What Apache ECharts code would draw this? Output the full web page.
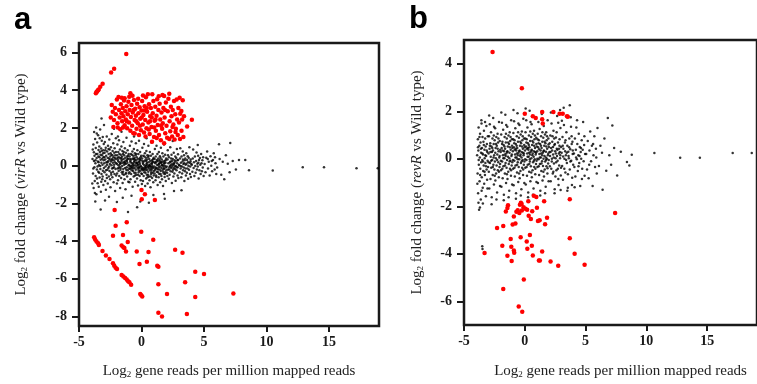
<!DOCTYPE html>
<html>
<head>
<meta charset="utf-8">
<script src="https://cdn.jsdelivr.net/npm/echarts@6.0.0/dist/echarts.min.js"></script>
<style>html,body{margin:0;padding:0;background:#fff}#c{width:757px;height:384px}</style>
</head>
<body>
<div id="c"></div>
<script>
// ---------- Tick labels ----------
const xTicks = [-5, 0, 5, 10, 15];
const yTicksA = [-8, -6, -4, -2, 0, 2, 4, 6];
const yTicksB = [-6, -4, -2, 0, 2, 4];

// ---------- Panel a : virR vs Wild type ----------
const blackA = [
[-3.92,0.35],[-3.88,-0.42],[-3.85,1.12],[-3.83,-1.18],[-3.81,0.71],[-3.79,1.78],[-3.77,-0.08],[-3.76,0.52],[-3.74,-0.81],[-3.71,1.41],[-3.69,0.12],[-3.67,-0.55],[-3.66,0.93],[-3.63,2.02],[-3.61,-1.52],[-3.59,0.41],[-3.57,-0.21],[-3.55,1.23],[-3.53,0.62],[-3.51,-0.93],[-3.49,0.22],[-3.47,1.61],[-3.46,-0.33],[-3.44,0.83],[-3.42,-1.12],[-3.4,0.02],[-3.38,1.02],[-3.36,0.44],[-3.35,-0.63],[-3.33,0.72],[-3.31,1.91],[-3.29,-0.18],[-3.27,0.31],[-3.25,-1.38],[-3.23,0.91],[-3.21,0.15],[-3.2,-0.45],[-3.18,1.32],[-3.16,0.55],[-3.14,-0.72],[-3.12,0.05],[-3.1,1.52],[-3.09,-0.27],[-3.07,0.66],[-3.05,-1.02],[-3.03,0.28],[-3.02,1.15],[-3.01,-0.12],[-3.94,-0.95],[-3.9,0.85],[-3.86,-0.15],[-3.8,0.25],[-3.73,-1.45],[-3.64,0.62],[-3.58,1.7],[-3.52,-0.05],[-3.45,0.48],[-3.39,-0.38],[-3.34,1.45],[-3.28,0.58],[-3.22,-0.85],[-3.15,0.36],[-3.11,-0.58],[-3.06,0.82],[-3.68,0.28],[-3.56,-0.68],[-3.43,0.18],[-3.3,-0.02],[-3.19,0.78],[-3.04,0.45],
[-2.98,0.12],[-2.96,-0.35],[-2.95,0.68],[-2.93,1.25],[-2.91,-0.82],[-2.9,0.33],[-2.88,-0.05],[-2.86,0.95],[-2.85,-1.28],[-2.83,0.52],[-2.81,0.18],[-2.8,-0.48],[-2.78,1.55],[-2.76,0.05],[-2.75,0.75],[-2.73,-0.22],[-2.71,0.42],[-2.7,-0.95],[-2.68,1.05],[-2.66,0.25],[-2.65,-0.12],[-2.63,0.62],[-2.61,-0.58],[-2.6,0.38],[-2.58,1.38],[-2.56,-0.28],[-2.55,0.85],[-2.53,0.08],[-2.51,-0.72],[-2.5,0.48],[-2.48,-1.15],[-2.46,0.22],[-2.45,0.98],[-2.43,-0.38],[-2.41,0.58],[-2.4,0.02],[-2.38,1.68],[-2.36,-0.15],[-2.35,0.35],[-2.33,-0.62],[-2.31,0.78],[-2.3,0.15],[-2.28,-0.32],[-2.26,1.18],[-2.25,0.45],[-2.23,-0.88],[-2.21,0.28],[-2.2,-0.08],[-2.18,0.68],[-2.16,-0.45],[-2.15,0.92],[-2.13,0.18],[-2.11,-1.35],[-2.1,0.55],[-2.08,-0.18],[-2.06,0.35],[-2.05,1.45],[-2.03,-0.52],[-2.01,0.12],[-2.97,0.45],[-2.84,-0.25],[-2.72,0.18],[-2.59,-0.05],[-2.47,0.65],[-2.37,0.28],[-2.27,-0.12],[-2.14,0.42],[-2.04,0.72],[-2.89,0.82],[-2.77,-0.65],[-2.64,0.88],[-2.52,0.32],[-2.42,-0.48],[-2.32,0.55],[-2.19,0.05],
[-1.98,0.08],[-1.96,-0.42],[-1.95,0.55],[-1.93,1.12],[-1.91,-0.15],[-1.9,0.32],[-1.88,-0.78],[-1.86,0.72],[-1.85,0.02],[-1.83,-0.28],[-1.81,0.45],[-1.8,1.35],[-1.78,-0.55],[-1.76,0.18],[-1.75,-0.05],[-1.73,0.85],[-1.71,-1.18],[-1.7,0.38],[-1.68,-0.22],[-1.66,0.58],[-1.65,0.12],[-1.63,-0.65],[-1.61,1.02],[-1.6,0.25],[-1.58,-0.35],[-1.56,0.48],[-1.55,-0.02],[-1.53,0.78],[-1.51,-0.92],[-1.5,0.15],[-1.48,0.62],[-1.46,-0.18],[-1.45,1.25],[-1.43,0.35],[-1.41,-0.48],[-1.4,0.05],[-1.38,0.55],[-1.36,-0.72],[-1.35,0.22],[-1.33,0.92],[-1.31,-0.12],[-1.3,0.42],[-1.28,-1.25],[-1.26,0.08],[-1.25,0.68],[-1.23,-0.38],[-1.21,0.28],[-1.2,1.48],[-1.18,-0.08],[-1.16,0.48],[-1.15,-0.58],[-1.13,0.15],[-1.11,0.82],[-1.1,-0.25],[-1.08,0.35],[-1.06,-0.85],[-1.05,0.02],[-1.03,0.62],[-1.01,-0.15],[-1.97,-0.95],[-1.87,0.25],[-1.77,0.62],[-1.67,-0.12],[-1.57,0.32],[-1.47,-0.32],[-1.37,0.18],[-1.27,-0.45],[-1.17,0.25],[-1.07,0.52],[-1.92,0.42],[-1.82,-0.12],[-1.72,0.08],[-1.62,0.42],[-1.52,-0.45],[-1.42,0.72],[-1.32,0.12],[-1.22,-0.22],[-1.12,0.38],[-1.02,-0.42],[-1.89,1.55],
[-0.98,0.05],[-0.96,-0.35],[-0.95,0.48],[-0.93,1.05],[-0.91,-0.18],[-0.9,0.25],[-0.88,-0.72],[-0.86,0.62],[-0.85,-0.02],[-0.83,-0.45],[-0.81,0.32],[-0.8,1.28],[-0.78,-0.25],[-0.76,0.12],[-0.75,-0.08],[-0.73,0.75],[-0.71,-1.12],[-0.7,0.38],[-0.68,-0.28],[-0.66,0.52],[-0.65,0.08],[-0.63,-0.58],[-0.61,0.88],[-0.6,0.18],[-0.58,-0.38],[-0.56,0.42],[-0.55,-0.12],[-0.53,0.65],[-0.51,-0.85],[-0.5,0.02],[-0.48,0.55],[-0.46,-0.22],[-0.45,1.18],[-0.43,0.28],[-0.41,-0.48],[-0.4,-0.05],[-0.38,0.45],[-0.36,-0.68],[-0.35,0.15],[-0.33,0.82],[-0.31,-0.15],[-0.3,0.35],[-0.28,-1.05],[-0.26,0.05],[-0.25,0.62],[-0.23,-0.35],[-0.21,0.22],[-0.2,1.32],[-0.18,-0.12],[-0.16,0.38],[-0.15,-0.55],[-0.13,0.08],[-0.11,0.72],[-0.1,-0.28],[-0.08,0.28],[-0.06,-0.78],[-0.05,-0.02],[-0.03,0.52],[-0.01,-0.18],[-0.97,-0.88],[-0.87,0.18],[-0.77,0.58],[-0.67,-0.15],[-0.57,0.25],[-0.47,-0.38],[-0.37,0.12],[-0.27,-0.48],[-0.17,0.18],[-0.07,0.45],[-0.92,0.35],[-0.82,-0.12],[-0.72,0.02],[-0.62,0.35],[-0.52,-0.52],[-0.42,0.62],[-0.32,0.05],[-0.22,-0.25],[-0.12,0.32],[-0.02,-0.42],[-0.94,-0.05],[-0.64,-0.02],[-0.44,0.15],[-0.24,-0.08],[-0.14,-0.05],[-0.54,0.32],
[0.02,-0.08],[0.04,-0.45],[0.05,0.38],[0.07,0.95],[0.09,-0.25],[0.1,0.15],[0.12,-0.82],[0.14,0.52],[0.15,-0.12],[0.17,-0.55],[0.19,0.22],[0.2,1.15],[0.22,-0.35],[0.24,0.02],[0.25,-0.18],[0.27,0.65],[0.29,-1.08],[0.3,0.28],[0.32,-0.38],[0.34,0.42],[0.35,-0.02],[0.37,-0.68],[0.39,0.78],[0.4,0.08],[0.42,-0.48],[0.44,0.32],[0.45,-0.22],[0.47,0.55],[0.49,-0.95],[0.5,-0.08],[0.52,0.45],[0.54,-0.32],[0.55,1.05],[0.57,0.18],[0.59,-0.58],[0.6,-0.15],[0.62,0.35],[0.64,-0.78],[0.65,0.05],[0.67,0.72],[0.69,-0.25],[0.7,0.25],[0.72,-1.15],[0.74,-0.05],[0.75,0.52],[0.77,-0.45],[0.79,0.12],[0.8,1.22],[0.82,-0.22],[0.84,0.28],[0.85,-0.65],[0.87,-0.02],[0.89,0.62],[0.9,-0.38],[0.92,0.18],[0.94,-0.88],[0.95,-0.12],[0.97,0.42],[0.99,-0.28],[0.03,-0.98],[0.13,0.08],[0.23,0.48],[0.33,-0.25],[0.43,0.15],[0.53,-0.48],[0.63,0.02],[0.73,-0.58],[0.83,0.08],[0.93,0.35],[0.08,0.25],[0.18,-0.22],[0.28,-0.08],[0.38,0.25],[0.48,-0.62],[0.58,0.52],[0.68,-0.05],[0.78,-0.35],[0.88,0.22],[0.98,-0.52],[0.06,-0.18],[0.36,-0.12],[0.56,-0.05],[0.76,-0.15],[0.86,-0.1],[0.46,0.02],
[1.02,-0.05],[1.04,-0.42],[1.05,0.35],[1.07,0.88],[1.09,-0.22],[1.1,0.12],[1.12,-0.78],[1.14,0.48],[1.15,-0.1],[1.17,-0.52],[1.19,0.2],[1.2,1.05],[1.22,-0.32],[1.24,0.05],[1.25,-0.15],[1.27,0.62],[1.29,-1.02],[1.3,0.25],[1.32,-0.35],[1.34,0.38],[1.35,0.02],[1.37,-0.62],[1.39,0.72],[1.4,0.08],[1.42,-0.45],[1.44,0.3],[1.45,-0.2],[1.47,0.5],[1.49,-0.88],[1.5,-0.05],[1.52,0.42],[1.54,-0.28],[1.55,0.95],[1.57,0.15],[1.59,-0.55],[1.6,-0.12],[1.62,0.32],[1.64,-0.72],[1.65,0.02],[1.67,0.65],[1.69,-0.22],[1.7,0.22],[1.72,-1.08],[1.74,-0.02],[1.75,0.48],[1.77,-0.42],[1.79,0.1],[1.8,1.12],[1.82,-0.18],[1.84,0.25],[1.85,-0.6],[1.87,0.0],[1.89,0.58],[1.9,-0.35],[1.92,0.15],[1.94,-0.82],[1.95,-0.1],[1.97,0.38],[1.99,-0.25],[1.13,-0.15],[1.23,0.3],[1.33,-0.2],[1.43,0.12],[1.53,-0.45],[1.63,0.05],[1.73,-0.32],[1.83,0.15],[1.93,0.28],[1.18,-0.6],[1.38,-0.08],[1.58,0.18],[1.78,-0.12],[1.88,-0.45],[1.08,0.18],[1.48,0.22],
[2.02,-0.05],[2.05,-0.38],[2.08,0.32],[2.1,0.82],[2.13,-0.2],[2.15,0.12],[2.18,-0.7],[2.2,0.45],[2.23,-0.08],[2.25,-0.48],[2.28,0.18],[2.3,0.98],[2.33,-0.3],[2.35,0.05],[2.38,-0.12],[2.4,0.58],[2.43,-0.92],[2.45,0.25],[2.48,-0.32],[2.5,0.35],[2.53,0.02],[2.55,-0.58],[2.58,0.68],[2.6,0.08],[2.63,-0.42],[2.65,0.28],[2.68,-0.18],[2.7,0.48],[2.73,-0.8],[2.75,-0.02],[2.78,0.4],[2.8,-0.25],[2.83,0.88],[2.85,0.12],[2.88,-0.52],[2.9,-0.08],[2.93,0.3],[2.95,-0.65],[2.98,0.05],[2.12,0.55],[2.22,-0.2],[2.32,0.22],[2.42,-0.05],[2.52,-0.22],[2.62,0.15],[2.72,0.22],[2.82,-0.1],[2.92,0.6],[2.07,-0.55],[2.27,-0.02],[2.47,0.1],[2.67,-0.05],[2.87,0.28],[2.57,-0.12],[2.37,0.38],
[3.02,0.02],[3.05,-0.35],[3.08,0.38],[3.1,0.92],[3.13,-0.15],[3.15,0.15],[3.18,-0.62],[3.2,0.48],[3.23,-0.05],[3.25,-0.42],[3.28,0.22],[3.3,0.75],[3.33,-0.25],[3.35,0.08],[3.38,-0.1],[3.4,0.55],[3.43,-0.82],[3.45,0.28],[3.48,-0.3],[3.5,0.38],[3.53,0.05],[3.55,-0.52],[3.58,0.65],[3.6,0.1],[3.63,-0.38],[3.65,0.3],[3.68,-0.15],[3.7,0.5],[3.73,-0.7],[3.75,0.0],[3.78,0.42],[3.8,-0.22],[3.83,0.98],[3.85,0.15],[3.88,-0.45],[3.9,-0.05],[3.93,0.32],[3.95,-0.6],[3.98,0.08],[3.12,-0.02],[3.32,0.32],[3.52,-0.15],[3.72,0.18],[3.92,0.22],[3.42,0.12],
[4.03,0.05],[4.07,-0.32],[4.1,0.38],[4.13,0.85],[4.17,-0.12],[4.2,0.18],[4.23,-0.55],[4.27,0.48],[4.3,-0.02],[4.33,-0.38],[4.37,0.25],[4.4,0.7],[4.43,-0.2],[4.47,0.1],[4.5,-0.05],[4.53,0.52],[4.57,-0.68],[4.6,0.3],[4.63,-0.25],[4.67,0.4],[4.7,0.05],[4.73,-0.45],[4.77,0.62],[4.8,0.12],[4.83,-0.3],[4.87,0.28],[4.9,-0.1],[4.93,0.45],[4.97,-0.55],[4.55,0.15],
[5.05,0.08],[5.12,-0.35],[5.18,0.42],[5.25,0.75],[5.32,-0.15],[5.38,0.2],[5.45,-0.52],[5.52,0.5],[5.58,0.0],[5.65,-0.3],[5.72,0.3],[5.78,0.65],[5.85,-0.2],[5.92,0.12],[5.98,-0.45],[5.3,0.35],[5.62,0.25],[5.88,0.45],
[6.05,-0.1],[6.2,1.14],[6.25,0.35],[6.38,-0.48],[6.5,0.2],[6.62,-0.72],[6.75,0.55],[6.9,0.1],[7.1,1.2],[7.05,-0.35],[7.3,0.25],[7.55,-0.2],[7.8,0.3],[8.3,0.3],[8.6,-0.25],
[10.5,-0.26],[12.9,-0.09],[14.6,-0.09],[17.2,-0.14],[18.9,-0.14],
[-3.27,-2.32],[-2.92,-1.85],[-1.97,-1.93],[-1.08,-2.46],[-0.35,-2.2],[0.59,-1.97],[1.86,-1.76],[-2.6,-1.65],[-0.8,-1.6],[0.95,-1.55],[-1.5,-1.7],[-3.7,-1.9],[-3.0,2.15],[-2.2,1.95],[-1.6,1.8],[-3.2,2.5],[-0.6,1.55],[0.4,1.45],[2.5,1.3],[4.5,1.1],[1.8,-1.5],[3.2,-1.3],[-0.1,-1.9],[2.6,-1.35]
];
const redA = [
[-2.46,2.55],[-2.38,3.22],[-2.3,2.85],[-2.2,2.42],[-2.12,3.05],[-2.05,2.72],[-1.97,3.51],[-1.92,2.25],[-1.84,3.64],[-1.8,2.95],[-1.75,2.55],[-1.7,1.93],[-1.65,3.25],[-1.6,2.78],[-1.55,2.35],[-1.5,3.05],[-1.45,2.62],[-1.4,3.45],[-1.35,2.14],[-1.35,3.57],[-1.3,2.88],[-1.25,2.45],[-1.2,3.15],[-1.15,1.98],[-1.1,2.72],[-1.05,3.38],[-1.0,2.28],[-0.95,2.95],[-0.89,3.83],[-0.89,1.85],[-0.85,2.58],[-0.8,3.22],[-0.75,2.12],[-0.7,2.82],[-0.65,1.72],[-0.6,3.48],[-0.55,2.42],[-0.54,1.7],[-0.5,3.02],[-0.45,2.65],[-0.4,1.95],[-0.35,3.28],[-0.3,2.25],[-0.27,3.55],[-0.25,2.78],[-0.2,1.62],[-0.15,3.1],[-0.1,2.48],[-0.05,1.88],[0.0,2.92],[0.05,3.42],[0.1,2.18],[0.15,2.68],[0.2,1.75],[0.25,3.15],[0.3,2.42],[0.35,3.62],[0.4,1.98],[0.45,2.85],[0.51,3.78],[0.55,2.28],[0.6,3.25],[0.65,1.68],[0.7,2.62],[0.75,3.05],[0.8,2.05],[0.86,3.78],[0.84,1.27],[0.9,2.78],[0.95,3.42],[1.0,1.52],[1.05,2.38],[1.1,3.12],[1.15,1.85],[1.22,1.46],[1.2,2.65],[1.25,3.52],[1.3,2.15],[1.35,2.95],[1.4,1.62],[1.45,3.28],[1.5,2.45],[1.55,1.35],[1.6,2.82],[1.68,3.74],[1.65,1.95],[1.7,2.25],[1.75,3.05],[1.81,3.69],[1.81,1.18],[1.85,2.55],[1.9,1.72],[1.95,3.35],[2.0,2.12],[2.05,1.48],[2.1,2.88],[2.15,3.55],[2.22,3.81],[2.22,1.41],[2.25,2.35],[2.3,1.82],[2.35,3.12],[2.4,2.62],[2.45,1.55],[2.5,2.95],[2.55,2.18],[2.6,3.42],[2.65,1.38],[2.7,2.72],[2.75,1.95],[2.81,3.51],[2.85,2.45],[2.9,1.62],[2.95,3.05],[3.0,2.28],[3.08,1.41],[3.1,2.75],[3.19,2.9],[3.2,1.85],[3.25,2.45],[3.3,3.46],[3.35,1.52],[3.4,2.62],[3.65,2.07],[4.03,2.43],[-1.58,3.6],[-0.98,3.65],[0.12,3.72],[-2.25,2.05],[-1.9,2.02],[-0.72,3.7],[0.32,1.55],[0.58,1.92],[1.02,2.02],[1.38,3.68],[-0.12,2.12],[0.68,2.35],[1.12,2.45],[0.42,3.05],[-0.42,2.35],[1.58,2.12],[0.22,2.92],[-0.62,2.95],[0.82,2.55],[1.88,2.95],[2.48,2.05],[2.72,1.78],[3.05,3.6],[-1.48,2.02],[-1.18,2.35],[0.02,2.55],
[-3.65,3.83],[-3.6,3.9],[-3.54,3.94],[-3.48,4.0],[-3.43,4.04],[-3.3,4.18],[-3.11,4.34],[-2.43,4.94],[-2.19,5.13],[-1.22,5.92],
[0.0,-1.29],[0.27,-1.52],[0.02,-1.78],[1.07,-1.82],
[-2.15,-2.35],[-2.07,-3.19],[-1.18,-3.0],[-2.28,-3.72],[-1.48,-3.68],[-0.02,-3.51],[-1.1,-4.05],[-1.59,-4.23],[-1.45,-4.32],[-1.37,-4.37],[-1.24,-4.55],[-0.38,-4.55],[0.56,-4.58],[0.94,-3.93],[2.69,-4.46],[3.28,-4.62],[-0.16,-5.21],[0.43,-5.09],[1.26,-5.3],[1.35,-5.36],[1.35,-6.29],[3.49,-6.18],[4.3,-5.62],[5.0,-5.74],[4.3,-6.96],[2.04,-6.8],[-0.1,-6.8],[-0.02,-6.87],[0.06,-6.93],[1.35,-7.8],[1.64,-8.0],[3.63,-7.86],[7.35,-6.78],
[-3.79,-3.79],[-3.71,-3.91],[-3.6,-4.02],[-3.47,-4.12],[-3.41,-4.21],[-3.12,-4.53],[-2.85,-4.76],[-2.56,-4.95],[-2.28,-5.18],[-2.18,-5.3],[-2.07,-5.41],[-1.96,-5.48],[-1.59,-5.8],[-1.45,-5.88],[-1.31,-5.95],[-1.18,-6.04],[-1.07,-6.13],[-0.97,-6.18],[-0.83,-6.31]
];

// ---------- Panel b : revR vs Wild type ----------
const blackB = [
[-3.92,0.15],[-3.88,-0.62],[-3.86,0.82],[-3.84,-1.45],[-3.82,0.35],[-3.8,1.32],[-3.78,-0.25],[-3.76,-2.15],[-3.74,0.55],[-3.72,-0.95],[-3.7,0.05],[-3.68,1.05],[-3.66,-0.42],[-3.64,0.68],[-3.62,-1.72],[-3.6,0.25],[-3.58,-0.15],[-3.56,1.48],[-3.54,-0.78],[-3.52,0.45],[-3.5,-0.05],[-3.48,0.92],[-3.46,-1.22],[-3.44,0.18],[-3.42,-0.52],[-3.4,0.72],[-3.38,-0.28],[-3.36,1.18],[-3.34,-1.05],[-3.32,0.38],[-3.3,0.02],[-3.28,-0.68],[-3.26,0.85],[-3.24,-0.18],[-3.22,0.52],[-3.2,-1.58],[-3.18,0.12],[-3.16,1.38],[-3.14,-0.45],[-3.12,0.62],[-3.1,-0.88],[-3.08,0.28],[-3.06,-0.08],[-3.04,0.95],[-3.02,-0.35],[-3.9,-1.05],[-3.85,0.48],[-3.79,-0.05],[-3.73,0.92],[-3.67,-0.68],[-3.61,0.42],[-3.55,-1.35],[-3.49,0.22],[-3.43,-0.12],[-3.37,0.58],[-3.31,-0.55],[-3.25,0.15],[-3.19,-0.32],[-3.13,0.35],[-3.07,-1.25],[-3.81,-1.85],[-3.69,-2.05],[-3.57,1.62],[-3.45,-1.88],[-3.27,1.55],
[-2.98,0.22],[-2.96,-0.55],[-2.94,0.95],[-2.92,-1.25],[-2.9,0.42],[-2.88,1.45],[-2.86,-0.18],[-2.84,0.65],[-2.82,-0.85],[-2.8,0.08],[-2.78,1.12],[-2.76,-0.38],[-2.74,0.52],[-2.72,-1.62],[-2.7,0.28],[-2.68,-0.05],[-2.66,0.85],[-2.64,-0.68],[-2.62,0.35],[-2.6,1.72],[-2.58,-0.25],[-2.56,0.62],[-2.54,-1.08],[-2.52,0.15],[-2.5,-0.45],[-2.48,0.78],[-2.46,-0.12],[-2.44,1.28],[-2.42,-0.92],[-2.4,0.45],[-2.38,0.02],[-2.36,-0.62],[-2.34,0.92],[-2.32,-0.28],[-2.3,0.55],[-2.28,-1.42],[-2.26,0.18],[-2.24,1.05],[-2.22,-0.48],[-2.2,0.68],[-2.18,-0.15],[-2.16,0.32],[-2.14,-0.78],[-2.12,1.55],[-2.1,0.05],[-2.08,-0.35],[-2.06,0.75],[-2.04,-1.15],[-2.02,0.38],[-2.97,-0.15],[-2.87,0.55],[-2.77,-0.08],[-2.67,0.45],[-2.57,0.05],[-2.47,-0.72],[-2.37,0.62],[-2.27,-0.05],[-2.17,0.85],[-2.07,0.12],[-2.93,1.82],[-2.73,-1.92],[-2.53,1.35],[-2.33,-1.72],[-2.13,-0.55],[-2.83,0.28],[-2.63,-0.35],[-2.43,0.25],[-2.23,0.42],[-2.03,-0.22],[-2.55,0.98],
[-1.98,0.28],[-1.96,-0.48],[-1.94,1.02],[-1.92,-1.18],[-1.9,0.45],[-1.88,1.52],[-1.86,-0.12],[-1.84,0.72],[-1.82,-0.82],[-1.8,0.15],[-1.78,1.22],[-1.76,-0.32],[-1.74,0.58],[-1.72,-1.52],[-1.7,0.32],[-1.68,0.02],[-1.66,0.92],[-1.64,-0.62],[-1.62,0.42],[-1.6,1.85],[-1.58,-0.18],[-1.56,0.68],[-1.54,-1.02],[-1.52,0.22],[-1.5,-0.38],[-1.48,0.85],[-1.46,-0.05],[-1.44,1.35],[-1.42,-0.85],[-1.4,0.52],[-1.38,0.08],[-1.36,-0.55],[-1.34,0.98],[-1.32,-0.22],[-1.3,0.62],[-1.28,-1.35],[-1.26,0.25],[-1.24,1.12],[-1.22,-0.42],[-1.2,0.75],[-1.18,-0.08],[-1.16,0.38],[-1.14,-0.72],[-1.12,1.62],[-1.1,0.12],[-1.08,-0.28],[-1.06,0.82],[-1.04,-1.08],[-1.02,0.45],[-1.97,-0.08],[-1.87,0.62],[-1.77,0.02],[-1.67,0.52],[-1.57,0.12],[-1.47,-0.65],[-1.37,0.68],[-1.27,0.02],[-1.17,0.92],[-1.07,0.18],[-1.93,1.95],[-1.73,-1.75],[-1.53,1.42],[-1.33,-1.62],[-1.13,-0.48],[-1.83,0.35],[-1.63,-0.28],[-1.43,0.32],[-1.23,0.48],[-1.03,-0.15],[-1.55,1.05],[-1.85,-0.42],[-1.65,0.18],[-1.45,0.28],[-1.25,-0.12],[-1.05,0.55],
[-0.98,0.32],[-0.96,-0.42],[-0.94,1.08],[-0.92,-1.12],[-0.9,0.48],[-0.88,1.58],[-0.86,-0.08],[-0.84,0.78],[-0.82,-0.75],[-0.8,0.18],[-0.78,1.28],[-0.76,-0.28],[-0.74,0.62],[-0.72,-1.45],[-0.7,0.35],[-0.68,0.05],[-0.66,0.95],[-0.64,-0.58],[-0.62,0.45],[-0.6,1.92],[-0.58,-0.15],[-0.56,0.72],[-0.54,-0.98],[-0.52,0.25],[-0.5,-0.35],[-0.48,0.88],[-0.46,-0.02],[-0.44,1.42],[-0.42,-0.82],[-0.4,0.55],[-0.38,0.12],[-0.36,-0.52],[-0.34,1.02],[-0.32,-0.18],[-0.3,0.65],[-0.28,-1.28],[-0.26,0.28],[-0.24,1.15],[-0.22,-0.38],[-0.2,0.78],[-0.18,-0.05],[-0.16,0.42],[-0.14,-0.68],[-0.12,1.68],[-0.1,0.15],[-0.08,-0.25],[-0.06,0.85],[-0.04,-1.02],[-0.02,0.48],[-0.97,-0.05],[-0.87,0.65],[-0.77,0.05],[-0.67,0.55],[-0.57,0.15],[-0.47,-0.62],[-0.37,0.72],[-0.27,0.05],[-0.17,0.95],[-0.07,0.22],[-0.93,2.05],[-0.73,-1.68],[-0.53,1.48],[-0.33,-1.55],[-0.13,-0.45],[-0.83,0.38],[-0.63,-0.25],[-0.43,0.35],[-0.23,0.52],[-0.03,-0.12],[-0.55,1.12],[-0.85,-0.38],[-0.65,0.22],[-0.45,0.32],[-0.25,-0.1],[-0.05,0.58],[-0.95,0.82],[-0.75,0.42],[-0.35,0.18],[-0.15,0.25],[-0.59,-0.02],
[0.02,0.35],[0.04,-0.38],[0.06,1.12],[0.08,-1.08],[0.1,0.52],[0.12,1.62],[0.14,-0.05],[0.16,0.82],[0.18,-0.72],[0.2,0.22],[0.22,1.32],[0.24,-0.25],[0.26,0.65],[0.28,-1.42],[0.3,0.38],[0.32,0.08],[0.34,0.98],[0.36,-0.55],[0.38,0.48],[0.4,2.02],[0.42,-0.12],[0.44,0.75],[0.46,-0.95],[0.48,0.28],[0.5,-0.32],[0.52,0.92],[0.54,0.02],[0.56,1.45],[0.58,-0.78],[0.6,0.58],[0.62,0.15],[0.64,-0.48],[0.66,1.05],[0.68,-0.15],[0.7,0.68],[0.72,-1.25],[0.74,0.32],[0.76,1.18],[0.78,-0.35],[0.8,0.82],[0.82,-0.02],[0.84,0.45],[0.86,-0.65],[0.88,1.72],[0.9,0.18],[0.92,-0.22],[0.94,0.88],[0.96,-0.98],[0.98,0.52],[0.03,-0.02],[0.13,0.68],[0.23,0.08],[0.33,0.58],[0.43,0.18],[0.53,-0.58],[0.63,0.75],[0.73,0.08],[0.83,0.98],[0.93,0.25],[0.07,2.12],[0.27,-1.62],[0.47,1.55],[0.67,-1.52],[0.87,-0.42],[0.17,0.42],[0.37,-0.22],[0.57,0.38],[0.77,0.55],[0.97,-0.08],[0.45,1.15],[0.15,-0.35],[0.35,0.25],[0.55,0.35],[0.75,-0.08],[0.95,0.62],[0.05,0.85],[0.25,0.45],[0.65,0.22],[0.85,0.28],[0.41,-0.02],
[1.02,0.32],[1.04,-0.35],[1.06,1.05],[1.08,-1.02],[1.1,0.48],[1.12,1.55],[1.14,-0.02],[1.16,0.78],[1.18,-0.68],[1.2,0.2],[1.22,1.25],[1.24,-0.22],[1.26,0.62],[1.28,-1.35],[1.3,0.35],[1.32,0.05],[1.34,0.95],[1.36,-0.52],[1.38,0.45],[1.4,1.88],[1.42,-0.1],[1.44,0.72],[1.46,-0.92],[1.48,0.25],[1.5,-0.3],[1.52,0.88],[1.54,0.0],[1.56,1.38],[1.58,-0.75],[1.6,0.55],[1.62,0.12],[1.64,-0.45],[1.66,1.02],[1.68,-0.12],[1.7,0.65],[1.72,-1.18],[1.74,0.3],[1.76,1.12],[1.78,-0.32],[1.8,0.78],[1.82,0.0],[1.84,0.42],[1.86,-0.62],[1.88,1.62],[1.9,0.15],[1.92,-0.2],[1.94,0.85],[1.96,-0.95],[1.98,0.5],[1.03,0.0],[1.13,0.65],[1.23,0.05],[1.33,0.55],[1.43,0.15],[1.53,-0.55],[1.63,0.72],[1.73,0.05],[1.83,0.95],[1.93,0.22],[1.27,-1.55],[1.47,1.48],[1.67,-1.45],[1.87,-0.4],[1.17,0.4],[1.37,-0.2],[1.57,0.35],[1.77,0.52],[1.97,-0.05],[1.45,1.12],[1.15,-0.32],[1.35,0.22],[1.55,0.32],[1.75,-0.05],[1.95,0.6],[1.05,0.82],
[2.03,0.28],[2.06,-0.32],[2.1,0.98],[2.13,-0.95],[2.16,0.45],[2.2,1.48],[2.23,0.0],[2.26,0.72],[2.3,-0.62],[2.33,0.18],[2.36,1.18],[2.4,-0.2],[2.43,0.58],[2.46,-1.28],[2.5,0.32],[2.53,0.02],[2.56,0.9],[2.6,-0.48],[2.63,0.42],[2.66,1.8],[2.7,-0.08],[2.73,0.68],[2.76,-0.85],[2.8,0.22],[2.83,-0.28],[2.86,0.82],[2.9,0.02],[2.93,1.3],[2.96,-0.7],[2.99,0.5],[2.08,0.12],[2.18,-0.42],[2.28,0.95],[2.38,0.05],[2.48,0.62],[2.58,-0.15],[2.68,0.38],[2.78,-1.1],[2.88,0.28],[2.98,-0.38],[2.15,1.95],[2.45,-1.45],[2.75,1.52],[2.95,-1.32],[2.25,0.35],[2.55,0.22],[2.85,0.55],[2.35,-0.55],[2.65,0.12],[2.05,0.65],[2.42,0.85],[2.72,-0.42],[2.92,0.15],[2.22,-0.12],[2.62,1.12],[2.82,0.42],[2.12,0.28],[2.52,-0.75],[2.32,0.5],[2.9,2.05],
[3.03,0.25],[3.07,-0.3],[3.1,0.92],[3.14,-0.88],[3.18,0.42],[3.22,1.42],[3.26,0.0],[3.3,0.68],[3.34,-0.58],[3.38,0.15],[3.42,1.12],[3.46,-0.18],[3.5,0.55],[3.54,-1.22],[3.58,0.3],[3.62,0.02],[3.66,0.85],[3.7,-0.45],[3.74,0.4],[3.78,1.75],[3.82,-0.08],[3.86,0.62],[3.9,-0.8],[3.94,0.2],[3.98,-0.25],[3.05,1.6],[3.15,0.1],[3.25,-0.42],[3.35,0.78],[3.45,0.25],[3.55,-0.65],[3.65,0.48],[3.75,-0.12],[3.85,0.95],[3.95,0.35],[3.2,2.15],[3.5,-1.35],[3.8,1.35],[3.12,0.55],[3.4,-0.05],[3.6,0.12],[3.7,2.25],[3.88,-1.1],[3.32,0.32],[3.92,0.72],
[4.04,0.22],[4.08,-0.35],[4.12,0.85],[4.16,-0.75],[4.2,0.38],[4.24,1.32],[4.28,-0.02],[4.32,0.62],[4.36,-0.52],[4.4,0.15],[4.44,1.05],[4.48,-0.18],[4.52,0.5],[4.56,-1.15],[4.6,0.28],[4.64,0.0],[4.68,0.78],[4.72,-0.42],[4.76,0.38],[4.8,1.55],[4.84,-0.1],[4.88,0.58],[4.92,-0.72],[4.96,0.2],[4.1,-1.2],[4.3,1.62],[4.5,0.12],[4.7,-0.85],[4.9,0.95],[4.22,0.05],[4.62,0.45],[4.42,-0.32],
[5.05,0.2],[5.12,-0.45],[5.18,0.75],[5.25,-0.82],[5.32,0.35],[5.38,1.15],[5.45,-0.1],[5.52,0.55],[5.58,-1.15],[5.65,0.15],[5.72,0.95],[5.78,-0.35],[5.85,0.42],[5.92,-0.62],[5.98,1.3],[5.3,-0.25],[5.62,0.62],[5.88,0.05],
[6.1,-0.3],[6.22,0.55],[6.35,0.25],[6.4,-1.3],[6.55,0.85],[6.7,-0.5],[6.83,1.72],[6.95,0.15],[7.2,1.4],[7.1,-0.25],[7.35,0.45],[7.6,-0.7],[7.9,0.3],[8.4,-0.14],[8.6,-0.28],[8.8,0.17],
[10.66,0.24],[12.78,0.04],[14.4,0.04],[17.1,0.24],[18.67,0.24],
[-3.5,-3.68],[-3.48,-3.8]
];
const redB = [
[-2.65,4.5],[-0.24,2.97],[0.0,1.9],[0.66,1.79],[0.9,1.72],[1.43,1.97],[1.43,1.66],[1.48,1.48],[2.35,1.97],[2.86,1.89],[3.12,1.89],[3.47,1.79],[3.54,1.77],[3.7,-1.7],[7.43,-2.28],
[0.74,-1.56],[0.95,-1.61],[0.29,-1.79],[-0.32,-1.85],[-0.26,-1.9],[-0.4,-1.94],[-1.38,-1.96],[-1.43,-2.07],[1.59,-1.79],[-0.1,-2.04],[0.05,-2.1],[1.0,-2.06],[-0.58,-2.17],[-0.69,-2.23],[-0.24,-2.18],[0.19,-2.15],[-0.45,-2.28],[-1.56,-2.22],[0.61,-2.21],[-0.9,-2.43],[0.32,-2.4],[0.5,-2.54],[1.83,-2.48],[1.22,-2.59],[1.08,-2.62],[1.67,-2.76],[-0.77,-2.73],[-1.0,-2.77],[-1.77,-2.83],[-2.28,-2.92],
[-0.34,-3.31],[-1.16,-3.38],[0.42,-3.21],[0.16,-3.48],[0.58,-3.66],[-1.85,-3.66],[-1.11,-3.7],[-0.9,-3.86],[-0.87,-3.96],[0.21,-3.79],[0.66,-4.07],[1.43,-3.9],[-1.43,-4.08],[-1.08,-4.3],[-3.31,-3.97],[1.16,-4.28],[1.24,-4.28],[2.12,-4.33],[2.75,-4.5],[3.7,-3.35],[4.1,-4.0],[4.92,-4.46],[-0.08,-5.08],[-1.77,-5.48],[-0.5,-6.22],[-0.21,-6.44]
];

const serif = '"Liberation Serif","Times New Roman",serif';
const richName = {
  n: { fontFamily: serif, fontSize: 15, color: '#222' },
  i: { fontFamily: serif, fontSize: 15, fontStyle: 'italic', color: '#222' },
  s: { fontFamily: serif, fontSize: 9, color: '#222', verticalAlign: 'bottom', lineHeight: 12 }
};
const xName = '{n|Log}{s|2}{n| gene reads per million mapped reads}';
const yNameA = '{n|Log}{s|2}{n| fold change (}{i|virR}{n| vs Wild type)}';
const yNameB = '{n|Log}{s|2}{n| fold change (}{i|revR}{n| vs Wild type)}';

function xAxisCfg(gridIndex, max, gap, pad) {
  return {
    type: 'value', gridIndex: gridIndex, min: -5, max: max, interval: 5,
    axisLine: { show: false, onZero: false },
    axisTick: { show: true, inside: false, length: 6, customValues: xTicks, lineStyle: { color: '#1a1a1a', width: 2 } },
    axisLabel: { customValues: xTicks, margin: 9, fontFamily: serif, fontWeight: 'bold', fontSize: 14, color: '#1a1a1a' },
    splitLine: { show: false },
    name: xName, nameLocation: 'middle', nameGap: gap,
    nameTextStyle: { rich: richName, padding: pad }
  };
}
function yAxisCfg(gridIndex, min, max, ticks, name, gap) {
  return {
    type: 'value', gridIndex: gridIndex, min: min, max: max,
    axisLine: { show: false, onZero: false },
    axisTick: { show: true, inside: false, length: 7, customValues: ticks, lineStyle: { color: '#1a1a1a', width: 2 } },
    axisLabel: { customValues: ticks, margin: 12, fontFamily: serif, fontWeight: 'bold', fontSize: 14, color: '#1a1a1a' },
    splitLine: { show: false },
    name: name, nameLocation: 'middle', nameGap: gap, nameRotate: 90,
    nameTextStyle: { rich: richName }
  };
}
function scatter(data, xi, color, size, opacity, z) {
  return {
    type: 'scatter', xAxisIndex: xi, yAxisIndex: xi, data: data,
    symbol: 'circle', symbolSize: size, silent: true, z: z,
    itemStyle: { color: color, opacity: opacity }, large: false, progressive: 0
  };
}

const chart = echarts.init(document.getElementById('c'), null, { renderer: 'canvas' });
chart.setOption({
  animation: false,
  backgroundColor: '#fff',
  grid: [
    { left: 79, top: 43, width: 300, height: 285, show: true, borderColor: '#1a1a1a', borderWidth: 2.5, backgroundColor: 'transparent', containLabel: false },
    { left: 464, top: 40, width: 296, height: 287, show: true, borderColor: '#1a1a1a', borderWidth: 2.5, backgroundColor: 'transparent', containLabel: false }
  ],
  xAxis: [ xAxisCfg(0, 19, 38, [0, 0, 0, 0]), xAxisCfg(1, 19.1, 39, [0, 0, 0, 20]) ],
  yAxis: [ yAxisCfg(0, -8.5, 6.5, yTicksA, yNameA, 50), yAxisCfg(1, -7, 5, yTicksB, yNameB, 39) ],
  series: [
    scatter(blackA, 0, '#000', 2.5, 0.8, 2),
    scatter(redA, 0, '#ff0000', 4.5, 1, 3),
    scatter(blackB, 1, '#000', 2.5, 0.8, 2),
    scatter(redB, 1, '#ff0000', 4.5, 1, 3)
  ],
  graphic: [
    { type: 'text', left: 14, top: 5, style: { text: 'a', font: 'bold 31px "Liberation Sans", Arial, sans-serif', fill: '#000' } },
    { type: 'text', left: 409, top: 4, style: { text: 'b', font: 'bold 31px "Liberation Sans", Arial, sans-serif', fill: '#000' } }
  ]
});
</script>
</body>
</html>
